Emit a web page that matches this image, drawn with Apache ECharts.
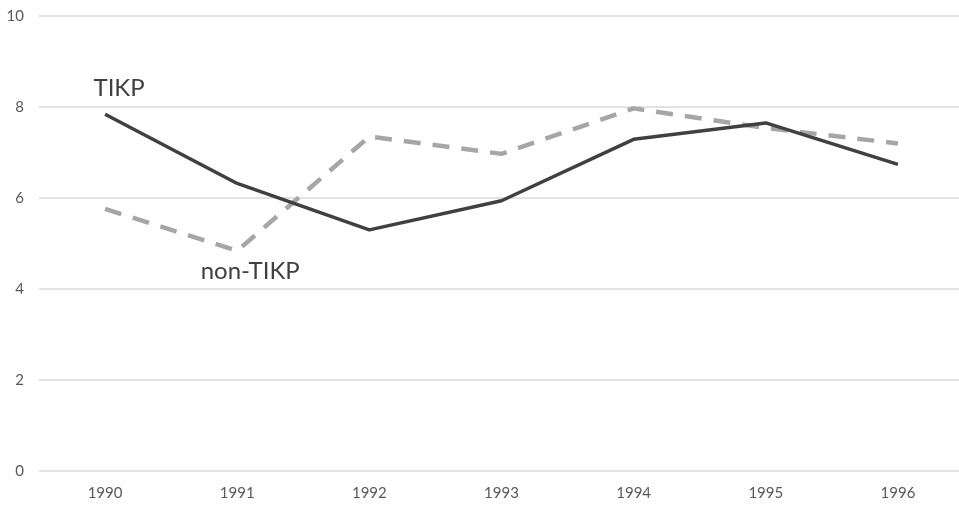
<!DOCTYPE html>
<html>
<head>
<meta charset="utf-8">
<script src="https://cdn.jsdelivr.net/npm/echarts@6/dist/echarts.min.js"></script>
<style>html,body{margin:0;padding:0;background:#fff;overflow:hidden}#c{width:964px;height:506px}</style>
</head>
<body>
<div id="c"></div>
<script>
const years = ['1990','1991','1992','1993','1994','1995','1996'];
const tikp = [7.84, 6.32, 5.30, 5.94, 7.29, 7.65, 6.74];
const nonTikp = [5.76, 4.84, 7.35, 6.97, 7.97, 7.54, 7.20];
const yTicks = [0, 2, 4, 6, 8, 10];

const FONT = 'Lato';
const chart = echarts.init(document.getElementById('c'), null, {renderer: 'canvas'});

function withLabel(arr, idx, text, offset) {
  return arr.map((v, i) => i === idx ? {
    value: v,
    label: {show: true, formatter: text, position: 'inside', offset: offset,
            fontFamily: FONT, fontSize: 24, color: '#404040'}
  } : v);
}

chart.setOption({
  animation: false,
  backgroundColor: '#fff',
  grid: {left: 39, right: 0, top: 16, bottom: 35, containLabel: false},
  xAxis: {
    type: 'category',
    data: years,
    boundaryGap: true,
    axisLine: {show: false},
    axisTick: {show: false},
    axisLabel: {fontFamily: FONT, fontSize: 15, color: '#595959', margin: 15}
  },
  yAxis: {
    type: 'value',
    min: yTicks[0], max: yTicks[yTicks.length - 1], interval: 2,
    axisLine: {show: false},
    axisTick: {show: false},
    axisLabel: {fontFamily: FONT, fontSize: 15, color: '#595959', margin: 15},
    splitLine: {lineStyle: {color: '#d9d9d9', width: 1.5}}
  },
  series: [
    {
      name: 'non-TIKP', type: 'line',
      data: withLabel(nonTikp, 1, 'non-TIKP', [13, 20]),
      symbol: 'circle', symbolSize: 1, showSymbol: true,
      itemStyle: {color: 'rgba(0,0,0,0)'},
      lineStyle: {color: '#a6a6a6', width: 4.5, type: [17, 12], cap: 'butt', join: 'round'},
      z: 2
    },
    {
      name: 'TIKP', type: 'line',
      data: withLabel(tikp, 0, 'TIKP', [14, -26]),
      symbol: 'circle', symbolSize: 1, showSymbol: true,
      itemStyle: {color: 'rgba(0,0,0,0)'},
      lineStyle: {color: '#404040', width: 3.5, join: 'round'},
      z: 3
    }
  ]
});
</script>
</body>
</html>
